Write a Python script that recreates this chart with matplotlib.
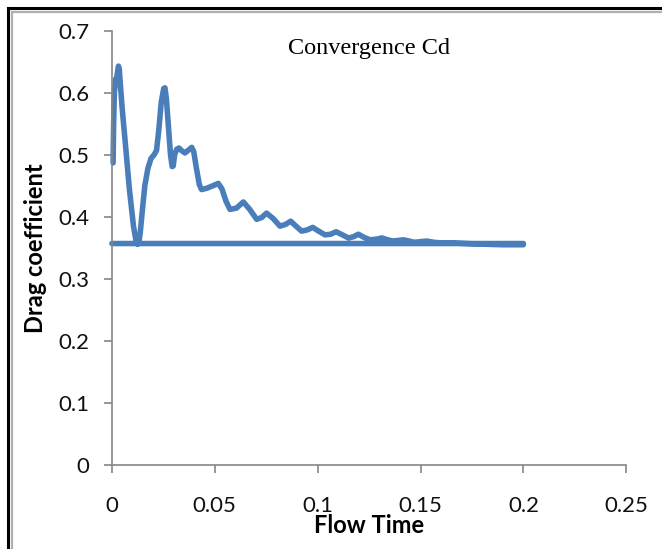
import numpy as np
import matplotlib.pyplot as plt
from matplotlib.lines import Line2D

# ---------------------- data ---------------------- #
# Convergence history of the drag coefficient; the last point returns to t=0
flow_time = [0.0006, 0.0008, 0.0012, 0.0018, 0.0024, 0.0028, 0.0032, 0.0036, 0.0042,
             0.005, 0.0065, 0.0085, 0.0105, 0.0118, 0.0125, 0.0131, 0.0138, 0.0148,
             0.016, 0.0175, 0.019, 0.0205, 0.0217, 0.0228, 0.024, 0.0252, 0.0258,
             0.0265, 0.0275, 0.0285, 0.0293, 0.0298, 0.0305, 0.0315, 0.0326, 0.0338,
             0.0355, 0.037, 0.0388, 0.0398, 0.041, 0.0425, 0.0436, 0.046, 0.049,
             0.0517, 0.0535, 0.0555, 0.0574, 0.0605, 0.0639, 0.067, 0.0704, 0.0728,
             0.0752, 0.0785, 0.0817, 0.0845, 0.0869, 0.0895, 0.0922, 0.095, 0.0976,
             0.1005, 0.1036, 0.1063, 0.109, 0.112, 0.115, 0.1175, 0.1198, 0.1225,
             0.1255, 0.1285, 0.1312, 0.134, 0.1367, 0.1392, 0.1417, 0.1445, 0.147,
             0.15, 0.153, 0.1565, 0.16, 0.165, 0.172, 0.18, 0.19, 0.2,
             0.2, 0.0]
drag_coeff = [0.487, 0.54, 0.6, 0.622, 0.625, 0.635, 0.643, 0.638, 0.61,
              0.575, 0.52, 0.445, 0.385, 0.36, 0.356, 0.358, 0.375, 0.41,
              0.45, 0.478, 0.494, 0.5, 0.507, 0.54, 0.585, 0.607, 0.608,
              0.59, 0.545, 0.5, 0.481, 0.482, 0.5, 0.509, 0.511, 0.507,
              0.503, 0.507, 0.512, 0.505, 0.48, 0.452, 0.444, 0.446, 0.45,
              0.454, 0.445, 0.425, 0.412, 0.414, 0.424, 0.412, 0.396, 0.399,
              0.406, 0.397, 0.385, 0.388, 0.393, 0.385, 0.377, 0.379, 0.383,
              0.377, 0.371, 0.372, 0.376, 0.371, 0.366, 0.368, 0.372, 0.367,
              0.363, 0.364, 0.366, 0.363, 0.361, 0.362, 0.363, 0.361, 0.359,
              0.36, 0.361, 0.359, 0.358, 0.358, 0.357, 0.356, 0.355, 0.355,
              0.357, 0.357]

x_ticks = [0, 0.05, 0.1, 0.15, 0.2, 0.25]
x_tick_labels = ["0", "0.05", "0.1", "0.15", "0.2", "0.25"]
y_ticks = [0, 0.1, 0.2, 0.3, 0.4, 0.5, 0.6, 0.7]
y_tick_labels = ["0", "0.1", "0.2", "0.3", "0.4", "0.5", "0.6", "0.7"]
# --------------------------------------------------------------------- #

fig = plt.figure(figsize=(6.62, 5.49), dpi=100)
ax = fig.add_axes([0.169, 0.153, 0.777, 0.791])

line_c = '#4A7EBB'
ax.plot(flow_time, drag_coeff, color=line_c, lw=4.0, solid_joinstyle='round',
        solid_capstyle='round', clip_on=False)

ax.set_xlim(0, 0.25)
ax.set_ylim(0, 0.7)
ax.set_xticks(x_ticks)
ax.set_xticklabels(x_tick_labels)
ax.set_yticks(y_ticks)
ax.set_yticklabels(y_tick_labels)

axis_c = '#868686'
for side in ['top', 'right']:
    ax.spines[side].set_visible(False)
for side in ['left', 'bottom']:
    ax.spines[side].set_color(axis_c)
    ax.spines[side].set_linewidth(1.2)

ax.tick_params(axis='both', direction='out', length=6, width=1.2, color=axis_c,
               labelsize=16, labelcolor='#111111')
ax.tick_params(axis='x', pad=16)
ax.tick_params(axis='y', pad=10)
for lab in ax.get_xticklabels() + ax.get_yticklabels():
    lab.set_fontfamily('Lato')

ax.set_xlabel("Flow Time", fontsize=17, fontweight='bold', family='Lato',
              labelpad=-1)
ax.set_ylabel("Drag coefficient", fontsize=17, fontweight='bold', family='Lato',
              labelpad=8)
ax.text(0.5, 0.96, "Convergence Cd", transform=ax.transAxes, ha='center', va='center',
        fontsize=17.5, family='Liberation Serif')

# Frame around the picture (only top and left edges are visible)
W, H = 662, 549
for (x0, x1, y0, y1, c, w) in [
        (8 / W, 8 / W, 0, 1 - 8 / H, 'black', 2.2),
        (8 / W, 1, 1 - 8 / H, 1 - 8 / H, 'black', 2.2),
        (11.5 / W, 11.5 / W, 0, 1 - 11.5 / H, '#b0b0b0', 1.6),
        (11.5 / W, 1, 1 - 11.5 / H, 1 - 11.5 / H, '#b0b0b0', 1.6)]:
    fig.add_artist(Line2D([x0, x1], [y0, y1], color=c, lw=w, transform=fig.transFigure))

fig.savefig("out.png", dpi=100)
